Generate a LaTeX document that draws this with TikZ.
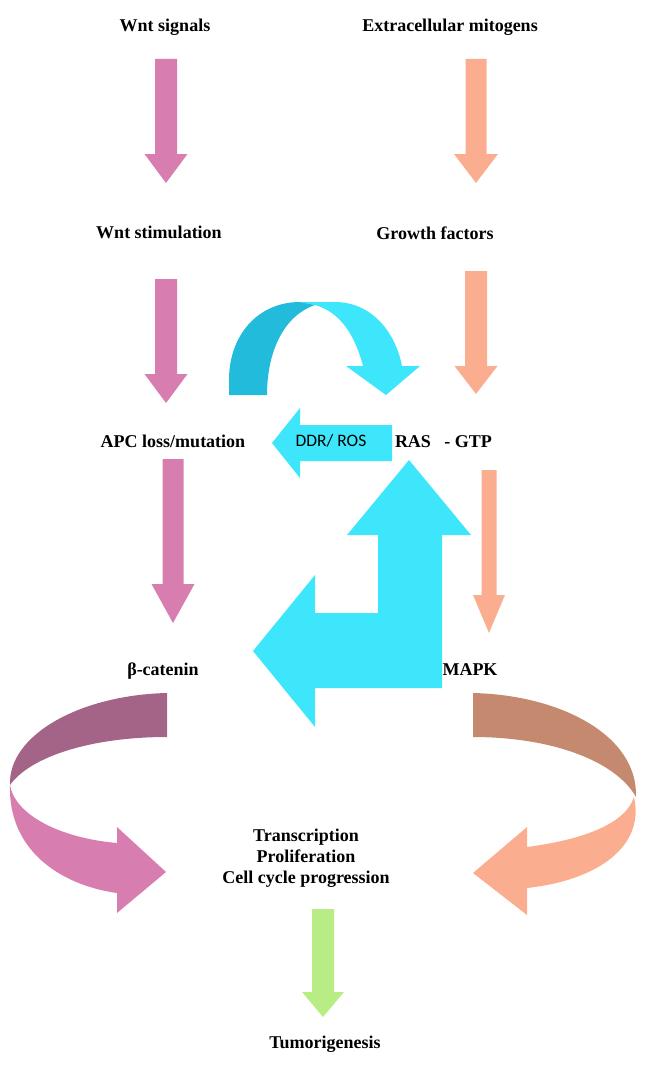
\documentclass[tikz,border=0pt]{standalone}
\usepackage{fontspec}
\setmainfont{Liberation Serif}
\newfontfamily\ddrfont{Carlito}
\definecolor{wntpink}{HTML}{D87DAF}
\definecolor{mitoorange}{HTML}{FBAE8F}
\definecolor{rascyan}{HTML}{3EE6FC}
\definecolor{rasdark}{HTML}{22BBDC}
\definecolor{wntdark}{HTML}{A36487}
\definecolor{mitodark}{HTML}{C4896E}
\definecolor{tumgreen}{HTML}{B8EC84}
% block arrow pointing down: colour, x, top, head base, tip, shaft half, head half
\newcommand{\blockdown}[7]{\fill[#1] (#2-#6,#3) -- (#2+#6,#3) -- (#2+#6,#4) -- (#2+#7,#4) -- (#2,#5) -- (#2-#7,#4) -- (#2-#6,#4) -- cycle;}
\begin{document}
\begin{tikzpicture}[x=1pt,y=-1pt,
  every node/.style={font=\fontsize{18}{21}\selectfont\bfseries,inner sep=0pt},
  lbl/.style={anchor=base}]
  \useasboundingbox (0,0) rectangle (646,1065);
  % labels
  \node[lbl] (wnt) at (165,32) {Wnt signals};
  \node[lbl] (mito) at (450,32) {Extracellular mitogens};
  \node[lbl] (wntstim) at (159,238) {Wnt stimulation};
  \node[lbl] (growth) at (435,239) {Growth factors};
  \node[lbl] (apc) at (173,447) {APC loss/mutation};
  \node[lbl] (ras) at (413,447) {RAS};
  \node[lbl] (gtp) at (468,447) {- GTP};
  \node[lbl] (bcat) at (163,675) {β-catenin};
  \node[lbl] (mapk) at (470,675) {MAPK};
  \node[lbl,align=center] (out) at (306,883) {Transcription\\Proliferation\\Cell cycle progression};
  \node[lbl] (tumor) at (325,1048) {Tumorigenesis};
  % straight arrows
  \blockdown{wntpink}{166}{59}{154}{183}{11}{21.5}
  \blockdown{mitoorange}{476}{59}{154}{183}{10.5}{22}
  \blockdown{wntpink}{166}{279}{374}{403}{11}{21.5}
  \blockdown{mitoorange}{476}{271}{366}{394}{11}{21.5}
  \blockdown{wntpink}{173}{459}{584}{623}{10.5}{21.5}
  \blockdown{mitoorange}{489}{470}{595}{633}{7.5}{16}
  \blockdown{tumgreen}{323}{909}{992}{1017}{11}{21}
  % curved arrow over RAS
  \fill[rascyan] (315,305) -- (300,302) -- (335,302) .. controls (370,302) and (395,330) .. (402,366)
    -- (420,366) -- (386,395) -- (346,366) -- (363,366) .. controls (355,335) and (340,312) .. (315,305) -- cycle;
  \fill[rasdark] (229,395) -- (229,380) .. controls (229,335) and (258,302) .. (300,302) -- (315,305)
    .. controls (285,315) and (267,350) .. (267,395) -- cycle;
  % DDR/ROS arrow
  \fill[rascyan] (392,425) -- (300,425) -- (300,408) -- (272,443) -- (300,478) -- (300,461) -- (392,461) -- cycle;
  \node[anchor=base,font=\fontsize{17.5}{20}\ddrfont] (ddr) at (331,446) {DDR/ ROS};
  % L-shaped arrow
  \fill[rascyan] (409,460) -- (471,535) -- (442,535) -- (442,688) -- (315,688) -- (315,727) -- (253,651)
    -- (315,575) -- (315,613) -- (378,613) -- (378,535) -- (347,535) -- cycle;
  % left curved arrow
  \fill[wntpink] (10,785) .. controls (8,850) and (60,885) .. (117,893) -- (117,913) -- (166,872)
    -- (117,827) -- (117,843) .. controls (60,838) and (15,815) .. (10,785) -- cycle;
  \fill[wntdark] (167,693) .. controls (80,695) and (8,735) .. (10,785)
    .. controls (30,757) and (90,737) .. (167,737) -- cycle;
  % right curved arrow
  \fill[mitoorange] (634,797) .. controls (645,845) and (600,880) .. (527,888) -- (527,915) -- (473,873)
    -- (527,827) -- (527,847) .. controls (580,840) and (625,825) .. (634,797) -- cycle;
  \fill[mitodark] (473,693) .. controls (560,695) and (638,735) .. (636,797)
    .. controls (615,760) and (550,737) .. (473,737) -- cycle;
\end{tikzpicture}
\end{document}
